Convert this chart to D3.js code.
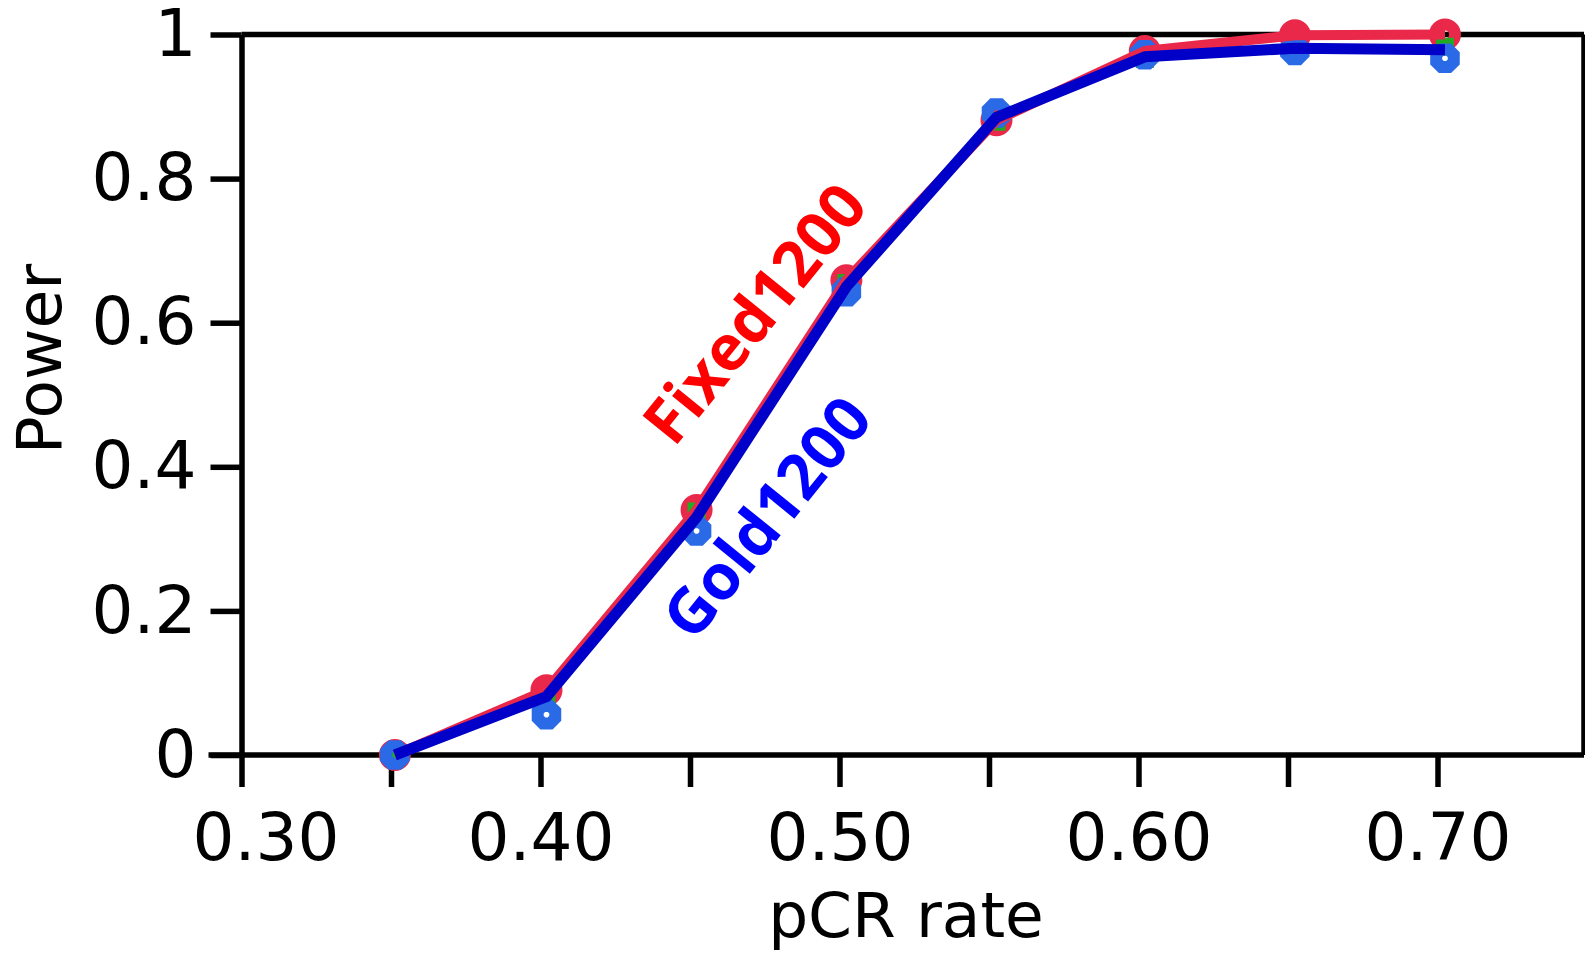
<!DOCTYPE html>
<html lang="en">
<head>
    <meta charset="UTF-8">
    <title>Power vs pCR rate</title>
    <script src="https://d3js.org/d3.v7.min.js"></script>
    <style type="text/css">
        body { margin: 0; background: #fff; }
        svg text { font-family: "DejaVu Sans", sans-serif; }
    </style>
</head>
<body>
<svg id="chart" width="1585" height="957"></svg>
<script type="text/javascript">
    // values
    var pcrRate     = [0.3513, 0.4020, 0.4522, 0.5023, 0.5525, 0.6021, 0.6523, 0.7025];
    var fixedPower  = [0.000, 0.090, 0.340, 0.659, 0.881, 0.977, 0.999, 1.000];
    var goldLine    = [0.000, 0.081, 0.330, 0.650, 0.885, 0.969, 0.981, 0.979];
    var goldPoints  = [0.000, 0.056, 0.311, 0.643, 0.891, 0.972, 0.978, 0.967];
    var greenPoints = [0.000, 0.075, 0.338, 0.655, 0.879, 0.966, 0.990, 0.983];
    var xTicks = [0.30, 0.35, 0.40, 0.45, 0.50, 0.55, 0.60, 0.65, 0.70];
    var yTicks = [0, 0.2, 0.4, 0.6, 0.8, 1];

    (function() {
        var svg = d3.select("#chart");
        var pLeft = 241.5, pRight = 1584, pTop = 34.5, pBottom = 755;

        var x = d3.scaleLinear().domain([0.30, 0.75]).range([pLeft, 1587]);
        var y = d3.scaleLinear().domain([0, 1]).range([pBottom, pTop]);

        var red = "#e9284a", darkBlue = "#0000c8", lightBlue = "#2a6ae6", green = "#22aa22";
        var axisW = 5.5;

        // frame top + right
        svg.append("line").attr("x1", pLeft).attr("x2", pRight).attr("y1", pTop).attr("y2", pTop)
            .attr("stroke", "#000").attr("stroke-width", axisW);
        svg.append("line").attr("x1", pRight).attr("x2", pRight).attr("y1", pTop).attr("y2", pBottom)
            .attr("stroke", "#000").attr("stroke-width", axisW);

        var xAxis = d3.axisBottom(x).tickValues(xTicks).tickSize(32).tickSizeOuter(0).tickPadding(26)
            .tickFormat(function(d) { return Math.round(d * 100) % 10 === 0 ? d.toFixed(2) : ""; });
        var gx = svg.append("g").attr("transform", "translate(0," + pBottom + ")").call(xAxis);

        var yAxis = d3.axisLeft(y).tickValues(yTicks).tickSize(31).tickSizeOuter(0).tickPadding(14)
            .tickFormat(function(d) { return d === 0 || d === 1 ? String(d) : d.toFixed(1); });
        var gy = svg.append("g").attr("transform", "translate(" + pLeft + ",0)").call(yAxis);

        [gx, gy].forEach(function(g) {
            g.select(".domain").attr("stroke", "#000").attr("stroke-width", axisW);
            g.selectAll(".tick line").attr("stroke", "#000").attr("stroke-width", axisW);
            g.selectAll(".tick text").attr("fill", "#000").style("font-size", "66px")
                .style("font-family", "DejaVu Sans, sans-serif");
        });
        gx.select(".domain").attr("d", "M" + (pLeft - 33) + ",0H" + pRight);
        // first x label sits a little right of its tick, clear of the "0"
        gx.selectAll(".tick text").filter(function(d) { return d === 0.30; }).attr("dx", 24);

        // axis titles
        svg.append("text").attr("x", 906).attr("y", 937).attr("text-anchor", "middle")
            .style("font-size", "63px").text("pCR rate");
        svg.append("text").attr("transform", "translate(61,359) rotate(-90)").attr("text-anchor", "middle")
            .style("font-size", "63px").text("Power");

        var idx = d3.range(pcrRate.length);

        // markers
        svg.append("g").selectAll("circle").data(idx).enter().append("circle")
            .attr("cx", function(i) { return x(pcrRate[i]); })
            .attr("cy", function(i) { return y(fixedPower[i]); })
            .attr("r", 10).attr("fill", "none").attr("stroke", red).attr("stroke-width", 12);

        svg.append("g").selectAll("rect").data(idx).enter().append("rect")
            .attr("x", function(i) { return x(pcrRate[i]) - 9; })
            .attr("y", function(i) { return y(greenPoints[i]) - 9; })
            .attr("width", 18).attr("height", 18).attr("fill", green);

        var octagon = d3.range(8).map(function(k) {
            var a = Math.PI / 8 + k * Math.PI / 4;
            return [9.5 * Math.cos(a), 9.5 * Math.sin(a)];
        });
        svg.append("g").selectAll("path").data(idx).enter().append("path")
            .attr("transform", function(i) { return "translate(" + x(pcrRate[i]) + "," + y(goldPoints[i]) + ")"; })
            .attr("d", "M" + octagon.join("L") + "Z")
            .attr("fill", "none").attr("stroke", lightBlue).attr("stroke-width", 12);

        // lines
        var line = d3.line().x(function(d) { return x(d[0]); }).y(function(d) { return y(d[1]); });
        svg.append("path").datum(d3.zip(pcrRate, fixedPower)).attr("d", line)
            .attr("fill", "none").attr("stroke", red).attr("stroke-width", 10).attr("stroke-linejoin", "round");
        svg.append("path").datum(d3.zip(pcrRate, goldLine)).attr("d", line)
            .attr("fill", "none").attr("stroke", darkBlue).attr("stroke-width", 11).attr("stroke-linejoin", "round");

        // in-plot labels
        svg.append("text").attr("transform", "translate(753,312) rotate(-51)")
            .attr("text-anchor", "middle").attr("dominant-baseline", "central")
            .style("font-family", "Open Sans, sans-serif").style("font-weight", "bold").style("font-size", "63px")
            .attr("fill", "#ff0000").text("Fixed1200");
        svg.append("text").attr("transform", "translate(765,516) rotate(-51)")
            .attr("text-anchor", "middle").attr("dominant-baseline", "central")
            .style("font-family", "Open Sans, sans-serif").style("font-weight", "bold").style("font-size", "63px")
            .attr("fill", "#0000ff").text("Gold1200");
    })();
</script>
</body>
</html>
